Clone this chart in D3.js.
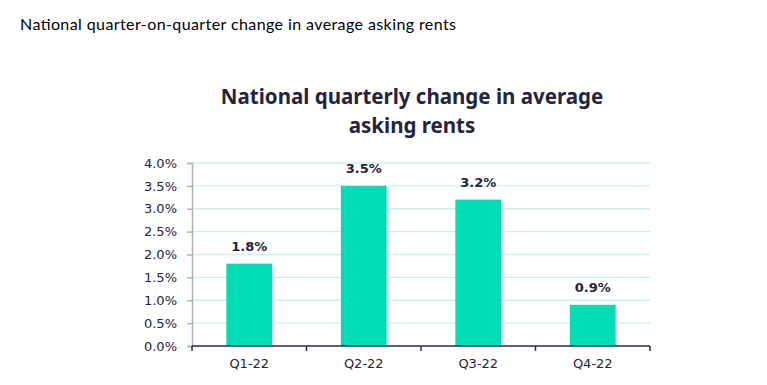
<!DOCTYPE html>
<html><head><meta charset="utf-8">
<script src="https://cdn.jsdelivr.net/npm/d3@7"></script>
<style>body{margin:0;background:#fff}svg{display:block}</style>
</head><body>
<svg id="c" width="767" height="385"></svg>
<script>
const categories = ["Q1-22","Q2-22","Q3-22","Q4-22"];
const values = [1.8, 3.5, 3.2, 0.9];
const yTicks = [0,0.5,1,1.5,2,2.5,3,3.5,4];
const pageTitle = "National quarter-on-quarter change in average asking rents";
const chartTitle = ["National quarterly change in average","asking rents"];

const svg = d3.select("#c");
const m = {left:192, right:650, top:163, bottom:346};
const x = d3.scaleBand().domain(categories).range([m.left,m.right]).paddingInner(0.6).paddingOuter(0.3);
const y = d3.scaleLinear().domain([0,4]).range([m.bottom,m.top]);
const navy = "#24243a";
const lblFont = "'DejaVu Sans', Verdana, sans-serif";

svg.append("text").attr("x",20).attr("y",30).attr("font-family","Lato, 'Open Sans', sans-serif")
  .attr("font-size",16).attr("fill","#000").attr("textLength",436).text(pageTitle);

svg.selectAll(".ct").data(chartTitle).join("text").attr("class","ct")
  .attr("x",412).attr("y",(d,i)=>104+i*29).attr("text-anchor","middle")
  .attr("font-family","'Noto Sans', 'Open Sans', sans-serif").attr("font-weight","bold")
  .attr("font-size",20.5).attr("fill",navy).text(d=>d);

// gridlines
svg.append("g").selectAll("line").data(yTicks.filter(d=>d>0)).join("line")
  .attr("x1",m.left).attr("x2",m.right).attr("y1",d=>y(d)).attr("y2",d=>y(d))
  .attr("stroke","#c9f3ea").attr("stroke-width",1.3);

// y axis
const ya = svg.append("g").attr("transform",`translate(${m.left},0)`)
  .call(d3.axisLeft(y).tickValues(yTicks).tickSize(5).tickFormat(d=>d3.format(".1f")(d)+"%"));
ya.select(".domain").attr("stroke","#b0b0b0").attr("stroke-width",1.5);
ya.selectAll(".tick line").attr("stroke","#b0b0b0").attr("stroke-width",1.5);
ya.selectAll("text").attr("font-family",lblFont).attr("font-size",13).attr("fill",navy).attr("x",-15);

// bars
svg.append("g").selectAll("rect").data(values).join("rect")
  .attr("x",(d,i)=>x(categories[i])).attr("width",x.bandwidth())
  .attr("y",d=>y(d)).attr("height",d=>y(0)-y(d)).attr("fill","#00dcb4");

// value labels
svg.append("g").selectAll("text").data(values).join("text")
  .attr("x",(d,i)=>x(categories[i])+x.bandwidth()/2).attr("y",d=>y(d)-13)
  .attr("text-anchor","middle").attr("font-family",lblFont)
  .attr("font-weight","bold").attr("font-size",13).attr("fill",navy)
  .text(d=>d3.format(".1f")(d)+"%");

// x axis
const xs = d3.scalePoint().domain(d3.range(categories.length+1)).range([m.left,m.right]);
const xa = svg.append("g").attr("transform",`translate(0,${m.bottom})`);
xa.append("line").attr("x1",m.left).attr("x2",m.right).attr("stroke","#2c2c3c").attr("stroke-width",1.5);
xa.selectAll(".tk").data(xs.domain()).join("line").attr("class","tk")
  .attr("x1",d=>xs(d)).attr("x2",d=>xs(d)).attr("y1",0).attr("y2",5).attr("stroke","#2c2c3c").attr("stroke-width",1.5);
xa.selectAll(".lb").data(categories).join("text").attr("class","lb")
  .attr("x",d=>x(d)+x.bandwidth()/2).attr("y",22).attr("text-anchor","middle")
  .attr("font-family",lblFont).attr("font-size",13).attr("fill",navy).text(d=>d);
</script>
</body></html>
